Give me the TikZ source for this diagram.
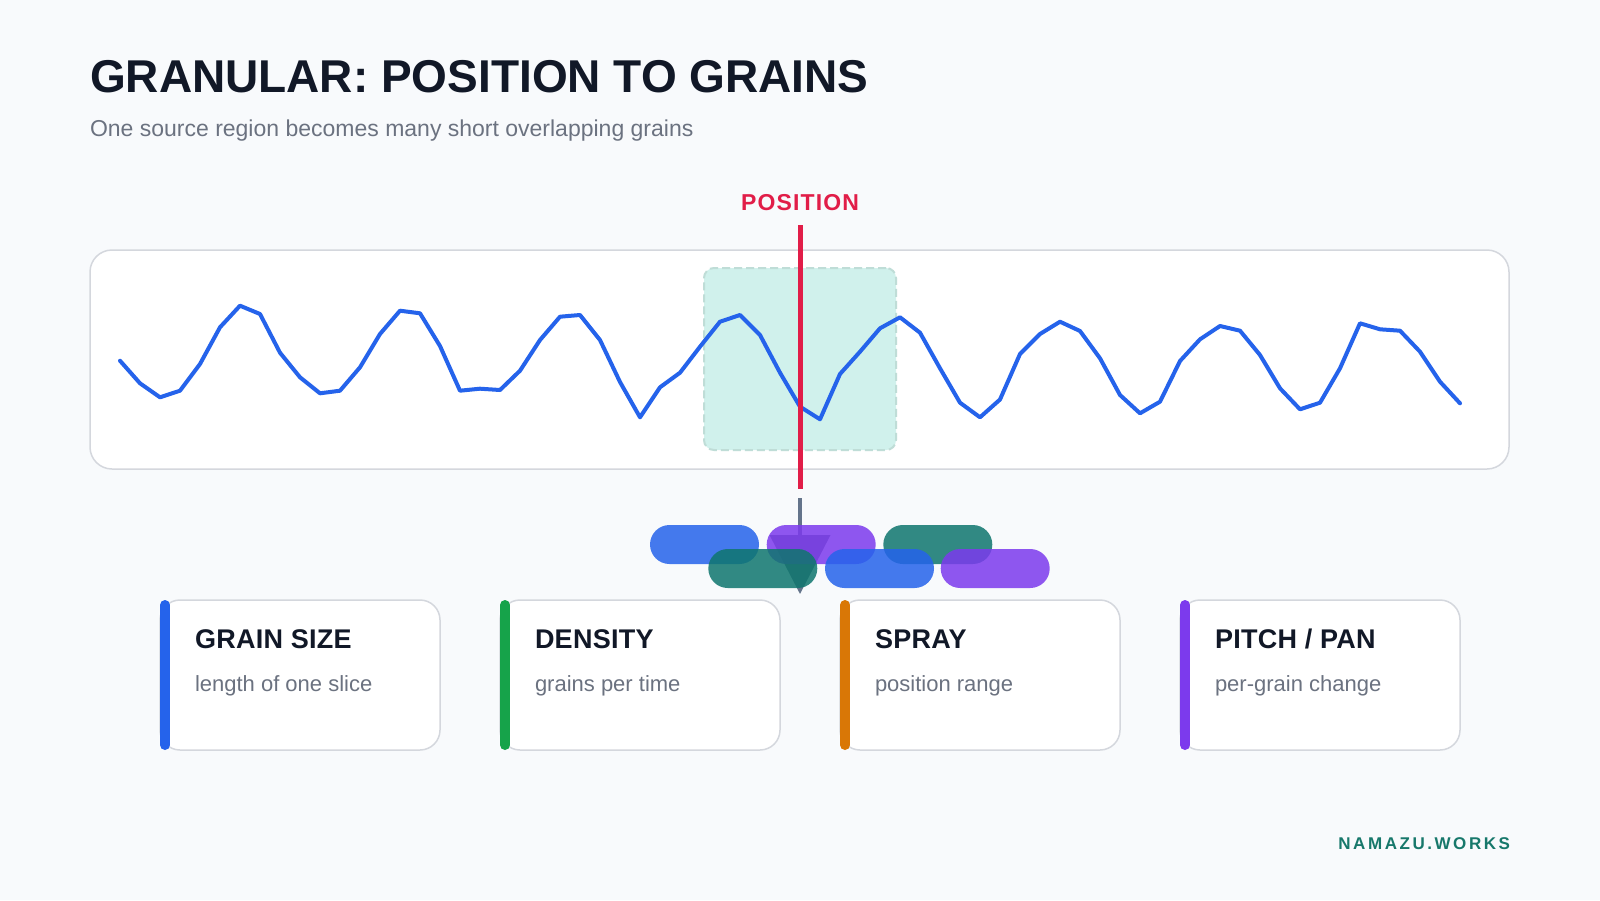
\documentclass[tikz,border=0pt]{standalone}
\usepackage{fontspec}
\setmainfont{Liberation Sans}
\usetikzlibrary{arrows.meta}
\definecolor{bg}{HTML}{F8FAFC}
\definecolor{ink}{HTML}{111827}
\definecolor{subink}{HTML}{6B7280}
\definecolor{boxline}{HTML}{D4D7DD}
\definecolor{wavecol}{HTML}{2563EB}
\definecolor{posred}{HTML}{E11D48}
\definecolor{hlfill}{HTML}{D0F1EC}
\definecolor{hlline}{HTML}{BFDDD7}
\definecolor{arrowgray}{HTML}{64748B}
\definecolor{gblue}{HTML}{2563EB}
\definecolor{gviolet}{HTML}{7C3AED}
\definecolor{gteal}{HTML}{0F766E}
\definecolor{cgreen}{HTML}{16A34A}
\definecolor{corange}{HTML}{D97706}
\definecolor{brand}{HTML}{17786B}
\begin{document}
\begin{tikzpicture}[x=1pt,y=-1pt,
  txt/.style={inner sep=0pt, outer sep=0pt},
  grain/.style={draw=none, fill opacity=0.85, minimum width=109pt, minimum height=39pt, rounded corners=19.5pt, inner sep=0pt},
  card/.style={draw=boxline, line width=1.5pt, fill=white, rounded corners=20pt, minimum width=280pt, minimum height=150pt, inner sep=0pt},
  cardbar/.style={line width=10pt, line cap=round},
  cardtitle/.style={txt, anchor=base west, text=ink, font=\fontsize{27}{30}\selectfont\bfseries\addfontfeature{LetterSpace=1}},
  cardsub/.style={txt, anchor=base west, text=subink, font=\fontsize{22}{26}\selectfont},
]
\fill[bg] (0,0) rectangle (1600,900);
\useasboundingbox (0,0) rectangle (1600,900);

% titles
\node[txt, anchor=base west, text=ink, font=\fontsize{46}{50}\selectfont\bfseries] (title) at (90,92) {GRANULAR: POSITION TO GRAINS};
\node[txt, anchor=base west, text=subink, font=\fontsize{23}{26}\selectfont] (subtitle) at (90,136) {One source region becomes many short overlapping grains};

% source box
\node[draw=boxline, line width=1.5pt, fill=white, rounded corners=22pt, minimum width=1419pt, minimum height=219pt, inner sep=0pt] (source) at (799.5,359.5) {};

% highlighted region
\node[draw=hlline, line width=2pt, dash pattern=on 8pt off 4pt, fill=hlfill, rounded corners=10pt, minimum width=192pt, minimum height=182pt, inner sep=0pt] (region) at (800,359) {};

% waveform
\draw[wavecol, line width=4pt, line join=round, line cap=round] plot coordinates {
(120,360.7) (140,383.3) (160,397.3) (180,390.7) (200,364) (220,327.3) (240,305.7) (260,314)
(280,352.7) (300,377.3) (320,393.3) (340,390.7) (360,367.3) (380,334) (400,310.7) (420,313.3)
(440,346) (460,390.7) (480,388.7) (500,390) (520,370.7) (540,340) (560,316.7) (580,315)
(600,340) (620,382) (640,417.3) (660,387.3) (680,372.7) (700,346.7) (720,321.7) (740,315)
(760,335) (780,372.7) (800,406.7) (820,419.3) (840,374) (860,351.7) (880,328.3) (900,317.3)
(920,332.7) (940,368.3) (960,402.7) (980,417.3) (1000,399.5) (1020,354) (1040,334) (1060,321.7)
(1080,331) (1100,358.3) (1120,395) (1140,413.3) (1160,401.7) (1180,361) (1200,339.3) (1220,326)
(1240,330.7) (1260,355) (1280,388.3) (1300,409.3) (1320,402.7) (1340,368.3) (1360,323.3) (1380,329.3)
(1400,330.7) (1420,351.7) (1440,381.7) (1460,403.3)};

% position marker
\coordinate (postop) at (800,225);
\coordinate (posbot) at (800,489);
\draw[posred, line width=5pt] (postop) -- (posbot);
\node[txt, anchor=base, text=posred, font=\fontsize{23}{26}\selectfont\bfseries\addfontfeature{LetterSpace=5}] (poslabel) at (800,210) {POSITION};

% arrow to grains
\coordinate (arrtop) at (800,498);
\coordinate (arrtip) at (800,594);
\draw[arrowgray, line width=4pt, -{Triangle[length=59pt, width=60pt]}] (arrtop) -- (arrtip);

% grains
\node[grain, fill=gblue] (g1) at (704.5,544.5) {};
\node[grain, fill=gviolet] (g2) at (821.2,544.5) {};
\node[grain, fill=gteal] (g3) at (937.8,544.5) {};
\node[grain, fill=gteal] (g4) at (762.8,568.5) {};
\node[grain, fill=gblue] (g5) at (879.5,568.5) {};
\node[grain, fill=gviolet] (g6) at (995.2,568.5) {};

% cards
\node[card] (c1) at (300,675) {};
\node[card] (c2) at (640,675) {};
\node[card] (c3) at (980,675) {};
\node[card] (c4) at (1320,675) {};
\draw[cardbar, gblue] (165,605) -- (165,745);
\draw[cardbar, cgreen] (505,605) -- (505,745);
\draw[cardbar, corange] (845,605) -- (845,745);
\draw[cardbar, gviolet] (1185,605) -- (1185,745);

\node[cardtitle] (t1) at (195,648) {GRAIN SIZE};
\node[cardsub] (s1) at (195,691) {length of one slice};
\node[cardtitle] (t2) at (535,648) {DENSITY};
\node[cardsub] (s2) at (535,691) {grains per time};
\node[cardtitle] (t3) at (875,648) {SPRAY};
\node[cardsub] (s3) at (875,691) {position range};
\node[cardtitle] (t4) at (1215,648) {PITCH / PAN};
\node[cardsub] (s4) at (1215,691) {per-grain change};

% footer
\node[txt, anchor=base east, text=brand, font=\fontsize{17}{20}\selectfont\bfseries\addfontfeature{LetterSpace=15}] (footer) at (1510,849) {NAMAZU.WORKS};
\end{tikzpicture}
\end{document}
